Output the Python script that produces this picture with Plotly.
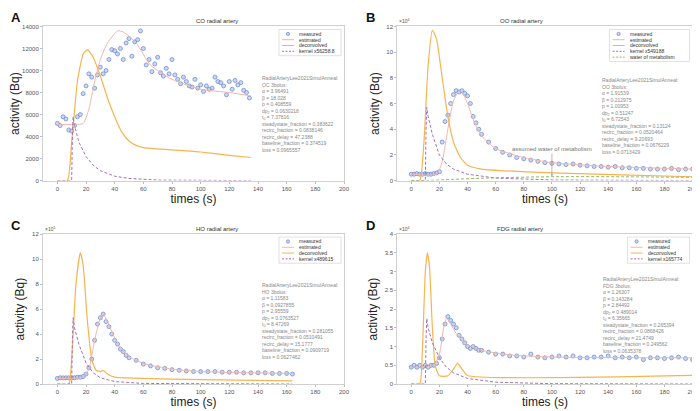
import plotly.graph_objects as go

# ---- panel A: CO ----
a_t = [0,2,4,6,8,10,12,14,16,18,20,22,24,26,28,30,32,34,36,38,40,42,44,46,48,50,52,54,56,58,60,62,64,66,68,70,72,74,76,78,80,82,84,86,88,90,92,94,96,98,100,102,104,106,108,110,112,114,116,118,120,122,124,126,128,130,132,134]
a_y = [5200,5000,5800,5600,4600,4500,5000,5800,6000,7900,8600,9700,9400,8400,9600,10300,9700,10000,11000,11900,11800,11500,12000,11000,12500,12900,11300,12600,12800,13600,12000,10500,11000,9900,10600,11200,9800,9500,10200,9700,11000,9600,9200,8800,9400,9000,8600,8500,9200,8400,8700,8100,8600,8300,8400,9400,9000,8900,8600,7800,9000,8300,9100,8700,8900,8200,8000,7500]
a_est_t = [0,10,18,22,26,30,35,42,46,55,65,80,100,120,135]
a_est_y = [5100,5100,5200,6500,9000,11000,12500,13600,13500,12500,10500,9200,8300,8000,7700]
a_dec_t = [0,7,10,14,18,21,25,30,35,40,45,50,55,60,80,100,120,135]
a_dec_y = [0,0,3500,9000,11500,11900,11200,9500,7500,5800,4400,3600,3200,3000,2800,2600,2300,2100]
a_ker_t = [0,10,10.5,11,12,15,20,25,30,40,50,70,135]
a_ker_y = [0,0,4000,5800,5000,3500,2200,1400,900,400,200,50,0]

# ---- panel B: OO (x1e4) ----
b_t = [0,2,4,6,8,10,12,14,16,18,20,22,24,26,28,30,32,34,36,38,40,42,44,46,48,50,55,60,65,70,75,80,85,90,95,100,105,110,115,120,125,130,135,140,145,150,155,160,165,170,175,180,185,190,195,200]
b_y = [0.5,0.5,0.55,0.5,0.5,0.55,0.5,0.5,0.55,0.6,0.7,3.0,4.6,5.1,6.0,6.7,7.0,6.9,7.0,6.8,6.6,6.0,5.0,4.5,4.0,3.6,3.0,2.5,2.2,2.0,1.8,1.7,1.6,1.5,1.4,1.35,1.3,1.25,1.3,1.2,1.15,1.1,1.1,1.05,1.1,1.0,1.0,0.95,0.95,0.9,0.9,0.9,0.95,0.85,0.9,0.9]
b_est_t = [0,18,22,26,30,34,36,40,45,50,60,80,100,140,200]
b_est_y = [0.5,0.5,1.5,4.0,6.2,7.0,6.9,6.0,4.5,3.5,2.5,1.8,1.4,1.1,0.9]
b_dec_t = [0,6,9,12,15,18,22,26,30,35,40,50,100,150,200]
b_dec_y = [0,0,3,9,11.7,11,8,5,3,1.8,1.2,0.9,0.6,0.45,0.3]
b_ker_t = [0,10,10.5,11,12,15,20,25,30,40,60,100,200]
b_ker_y = [0,0,4,5.7,5,3.6,2.0,1.3,0.9,0.5,0.2,0.05,0]
b_wat_t = [0,10,30,60,100,150,200]
b_wat_y = [0,0,0.1,0.22,0.3,0.3,0.25]

# ---- panel C: HO (x1e5) ----
c_t = [0,2,4,6,8,10,12,14,16,18,20,22,24,26,28,30,32,34,36,38,40,42,44,46,48,50,55,60,65,70,75,80,85,90,95,100,105,110,115,120,125,130,135,140,145,150,155,160,164]
c_y = [0.45,0.5,0.5,0.5,0.5,0.5,0.5,0.55,0.55,0.6,0.8,1.3,2.0,3.5,4.8,5.3,5.6,5.0,4.6,4.0,3.5,3.2,2.8,2.6,2.3,2.1,1.9,1.6,1.45,1.3,1.25,1.15,1.1,1.05,1.0,1.0,1.0,1.0,0.95,0.95,0.95,0.9,0.9,0.9,0.9,0.85,0.85,0.85,0.8]
c_est_t = [0,18,22,26,30,32,35,40,45,50,60,80,100,164]
c_est_y = [0.45,0.55,1.2,3.5,5.3,5.6,5.0,3.7,2.8,2.2,1.65,1.2,1.0,0.85]
c_dec_t = [0,8,10,13,16,18,21,24,27,30,32,35,40,60,100,164]
c_dec_y = [0,0,2,8,10.5,9.5,5,2,1.1,1.0,1.1,0.8,0.55,0.45,0.35,0.25]
c_ker_t = [0,10,10.5,11,12,15,20,25,30,40,60,164]
c_ker_y = [0,0,3.5,5.3,4.5,3.2,1.7,0.9,0.5,0.2,0.05,0]

# ---- panel D: FDG (x1e4) ----
d_t = [0,2,4,6,8,10,12,14,16,18,20,22,24,26,28,30,32,34,36,38,40,42,44,46,48,50,55,60,65,70,75,80,85,90,95,100,105,110,115,120,125,130,135,140,145,150,155,160,165,170,175,180,185,190,195,200]
d_y = [0.45,0.5,0.45,0.5,0.45,0.5,0.45,0.5,0.5,0.55,0.7,1.2,1.6,1.8,1.7,1.6,1.5,1.3,1.2,1.1,1.0,0.95,1.0,0.95,0.9,0.9,0.85,0.8,0.8,0.75,0.75,0.72,0.8,0.72,0.7,0.72,0.75,0.72,0.75,0.7,0.7,0.72,0.72,0.75,0.7,0.72,0.7,0.72,0.65,0.7,0.7,0.68,0.7,0.72,0.68,0.65]
d_est_t = [0,16,20,23,25,28,32,40,50,70,100,200]
d_est_y = [0.45,0.5,0.8,1.5,1.75,1.6,1.35,1.05,0.9,0.78,0.72,0.7]
d_dec_t = [0,6,8,10,11.5,13,15,17,20,26,30,33,36,40,200]
d_dec_y = [0,0,1,3,3.5,3.1,1.5,0.5,0.22,0.22,0.4,0.55,0.4,0.23,0.23]
d_ker_t = [0,10,10.5,11,12,15,20,25,30,40,60,100,200]
d_ker_y = [0,0,1.2,1.75,1.5,1.1,0.7,0.45,0.3,0.15,0.05,0.01,0]

params = {
    "A": ["OC 3bolus:", "3.96491", "18.028", "0.408559", "0.0630218", "7.37816", "0.383622", "0.0838146", "47.2388", "0.374519", "0.0965557"],
    "B": ["OO 3bolus:", "1.91539", "0.212975", "1.00953", "0.51247", "6.72543", "0.13124", "0.0520464", "9.20693", "0.0676229", "0.0713429"],
    "C": ["HO 3bolus:", "1.11583", "0.0927855", "2.95559", "0.0763527", "8.47269", "0.281055", "0.0510491", "15.1777", "0.0909719", "0.0627462"],
    "D": ["FDG 3bolus:", "1.26307", "0.143284", "2.84492", "0.489014", "6.35665", "0.265394", "0.0868426", "21.4749", "0.249562", "0.0635378"],
}

C_MEAS = "#6f8fd0"
C_EST = "#f4b6ac"
C_DEC = "#f5b452"
C_KER = "#9e72bb"
C_WAT = "#8dbb5a"

panels = [
    dict(k="A", title="CO radial artery", t=a_t, y=a_y, est=(a_est_t, a_est_y), dec=(a_dec_t, a_dec_y),
         ker=(a_ker_t, a_ker_y), kname="kernel x56258.8", yr=[0, 14000], dt=2000, exp=None,
         xd=[0.05, 0.48], yd=[0.58, 0.955], txt=(0.36, 0.842)),
    dict(k="B", title="OO radial artery", t=b_t, y=b_y, est=(b_est_t, b_est_y), dec=(b_dec_t, b_dec_y),
         ker=(b_ker_t, b_ker_y), kname="kernel x549188", yr=[0, 12], dt=2, exp="×10<sup>4</sup>",
         xd=[0.556, 0.978], yd=[0.58, 0.955], txt=(0.845, 0.837)),
    dict(k="C", title="HO radial artery", t=c_t, y=c_y, est=(c_est_t, c_est_y), dec=(c_dec_t, c_dec_y),
         ker=(c_ker_t, c_ker_y), kname="kernel x489615", yr=[0, 12], dt=2, exp="×10<sup>5</sup>",
         xd=[0.05, 0.48], yd=[0.085, 0.45], txt=(0.36, 0.337)),
    dict(k="D", title="FDG radial artery", t=d_t, y=d_y, est=(d_est_t, d_est_y), dec=(d_dec_t, d_dec_y),
         ker=(d_ker_t, d_ker_y), kname="kernel x165774", yr=[0, 4], dt=0.5, exp="×10<sup>4</sup>",
         xd=[0.556, 0.978], yd=[0.085, 0.45], txt=(0.847, 0.352)),
]

W, H = 700, 411
fig = go.Figure()
annos = []
shapes = []
lay = {}
for i, p in enumerate(panels):
    n = "" if i == 0 else str(i + 1)
    xa, ya = "x" + n, "y" + n
    fig.add_trace(go.Scatter(x=p["t"], y=p["y"], mode="markers", xaxis=xa, yaxis=ya, showlegend=False,
                             marker=dict(size=4, color="rgba(170,190,235,0.6)", line=dict(color=C_MEAS, width=0.8))))
    fig.add_trace(go.Scatter(x=p["est"][0], y=p["est"][1], mode="lines", xaxis=xa, yaxis=ya, showlegend=False,
                             line=dict(color=C_EST, width=1, shape="spline", smoothing=0.6)))
    fig.add_trace(go.Scatter(x=p["dec"][0], y=p["dec"][1], mode="lines", xaxis=xa, yaxis=ya, showlegend=False,
                             line=dict(color=C_DEC, width=1.2, shape="spline", smoothing=0.5)))
    fig.add_trace(go.Scatter(x=p["ker"][0], y=p["ker"][1], mode="lines", xaxis=xa, yaxis=ya, showlegend=False,
                             line=dict(color=C_KER, width=1, dash="3px,2px")))
    items = [("measured", "m"), ("estimated", C_EST), ("deconvolved", C_DEC), (p["kname"], C_KER)]
    if p["k"] == "B":
        fig.add_trace(go.Scatter(x=b_wat_t, y=b_wat_y, mode="lines", xaxis=xa, yaxis=ya, showlegend=False,
                                 line=dict(color=C_WAT, width=1, dash="3px,2px", shape="spline")))
        items.append(("water of metabolism", C_WAT))
        annos.append(dict(x=100, y=0.35, ax=100, ay=2.1, xref=xa, yref=ya, axref=xa, ayref=ya,
                          text="assumed water of metabolism", showarrow=True, arrowhead=2, arrowsize=0.6,
                          arrowwidth=0.6, arrowcolor="#888", font=dict(size=6, color="#777"), yanchor="bottom"))
    axis = dict(showline=True, mirror=True, linecolor="#d0d0d0", linewidth=1, ticks="outside", ticklen=2,
                tickcolor="#bbb", showgrid=False, zeroline=False, automargin=False,
                tickfont=dict(size=6, color="#555"))
    lay["xaxis" + n] = dict(axis, domain=p["xd"], range=[-10, 200], dtick=20, anchor=ya,
                            title=dict(text="times (s)", font=dict(size=12, color="#222"), standoff=1))
    lay["yaxis" + n] = dict(axis, domain=p["yd"], range=p["yr"], dtick=p["dt"], anchor=xa, tickformat="~g",
                            title=dict(text="activity (Bq)", font=dict(size=12, color="#222"), standoff=4))

    # hand-built legend box (MATLAB style, compact)
    rx1 = p["xd"][1] - 3 / W
    ry1 = p["yd"][1] - 3 / H
    rx0 = rx1 - (80 if p["k"] == "B" else 62) / W
    ry0 = ry1 - (len(items) * 5.8 + 3) / H
    shapes.append(dict(type="rect", xref="paper", yref="paper", x0=rx0, x1=rx1, y0=ry0, y1=ry1,
                       line=dict(color="#ccc", width=0.6), fillcolor="white", layer="above"))
    for j, (lab, col) in enumerate(items):
        yy = ry1 - (1.5 + 5.8 * (j + 0.5)) / H
        if col == "m":
            cx = rx0 + 9 / W
            shapes.append(dict(type="circle", xref="paper", yref="paper", x0=cx - 1.6 / W, x1=cx + 1.6 / W,
                               y0=yy - 1.6 / H, y1=yy + 1.6 / H, line=dict(color=C_MEAS, width=0.8),
                               fillcolor="rgba(170,190,235,0.6)", layer="above"))
        else:
            shapes.append(dict(type="line", xref="paper", yref="paper", x0=rx0 + 3 / W, x1=rx0 + 15 / W,
                               y0=yy, y1=yy, layer="above",
                               line=dict(color=col, width=1, dash="2px,1.5px" if col in (C_KER, C_WAT) else "solid")))
        annos.append(dict(x=rx0 + 18 / W, y=yy, xref="paper", yref="paper", text=lab, showarrow=False,
                          xanchor="left", yanchor="middle", font=dict(size=5, color="#333")))

    mid = (p["xd"][0] + p["xd"][1]) / 2
    annos.append(dict(x=mid, y=p["yd"][1], xref="paper", yref="paper", text=p["title"], showarrow=False,
                      yanchor="bottom", font=dict(size=6, color="#333")))
    annos.append(dict(x=p["xd"][0] - 0.048, y=p["yd"][1] + 0.045, xref="paper", yref="paper", text="<b>%s</b>" % p["k"],
                      showarrow=False, xanchor="left", yanchor="top", font=dict(size=13, color="#111")))
    if p["exp"]:
        annos.append(dict(x=p["xd"][0], y=p["yd"][1], xref="paper", yref="paper", text=p["exp"], showarrow=False,
                          xanchor="left", yanchor="bottom", font=dict(size=5, color="#555")))
    v = params[p["k"]]
    lines = ["RadialArteryLee2021SimulAnneal:", v[0], "α = " + v[1], "β = " + v[2], "p = " + v[3],
             "dp<sub>2</sub> = " + v[4], "t<sub>0</sub> = " + v[5], "steadystate_fraction = " + v[6],
             "recirc_fraction = " + v[7], "recirc_delay = " + v[8], "baseline_fraction = " + v[9], "loss = " + v[10]]
    annos.append(dict(x=p["txt"][0], y=p["txt"][1], xref="paper", yref="paper", text="<br>".join(lines),
                      showarrow=False, xanchor="left", yanchor="top", align="left",
                      font=dict(size=5, color="#888")))

fig.update_layout(**lay)
fig.update_layout(width=W, height=H, margin=dict(l=0, r=0, t=0, b=0), plot_bgcolor="white",
                  paper_bgcolor="white", font=dict(family="Liberation Sans, Arial"),
                  annotations=annos, shapes=shapes)
fig.write_html("out.html")
